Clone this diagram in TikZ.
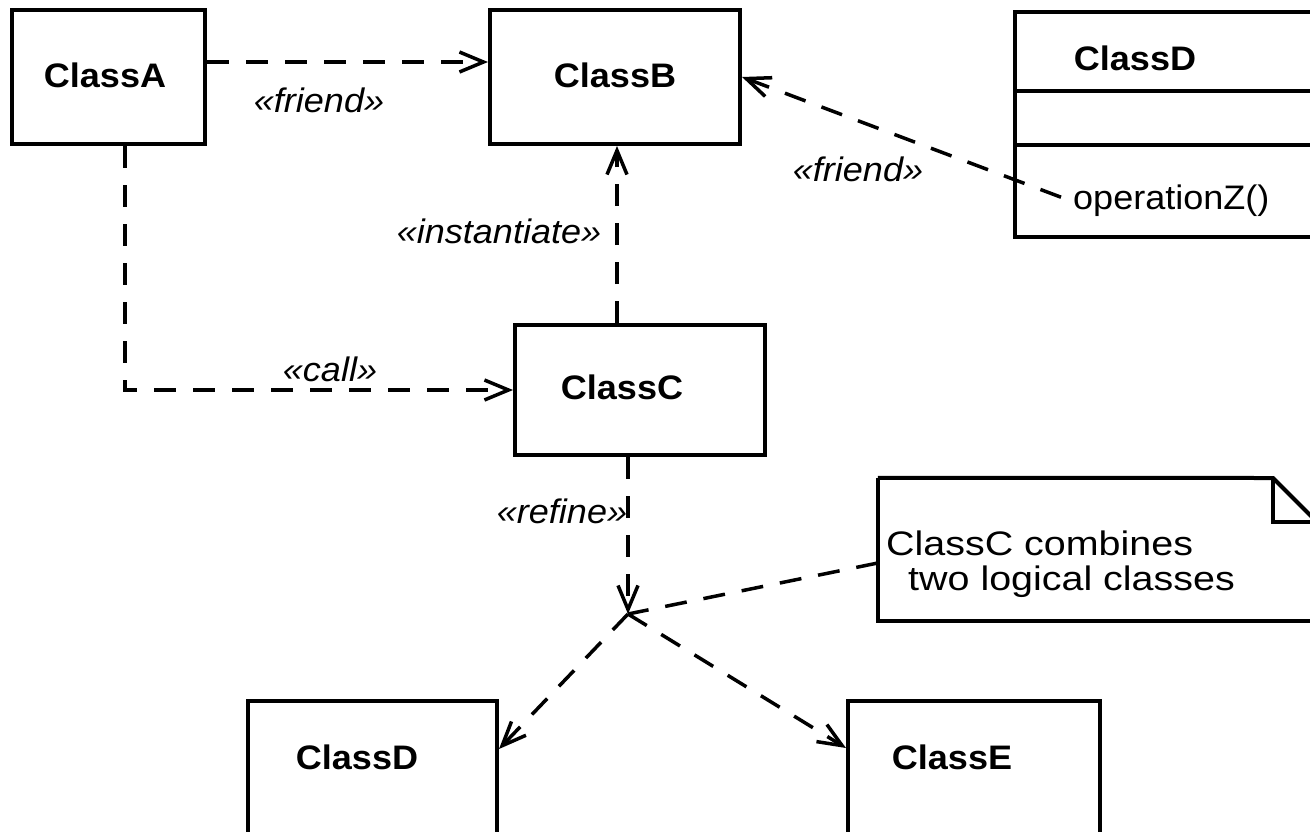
\documentclass[tikz,border=0pt]{standalone}
\usepackage{fontspec}
\setmainfont{Liberation Sans}
\usepackage{graphicx}
\usetikzlibrary{arrows.meta}

\newcommand{\wtxt}[1]{\scalebox{1.06}[1]{#1}}
\newcommand{\notetxt}[1]{\scalebox{1.16}[1]{#1}}

\tikzset{
  classbox/.style={draw, line width=4pt, inner sep=0pt},
  lbl/.style={inner sep=0pt, font=\fontsize{34}{40}\selectfont},
  boldlbl/.style={lbl, anchor=base, font=\fontsize{34}{40}\selectfont\bfseries},
  dep/.style={line width=3.5pt, dash pattern=on 22pt off 17pt, -{Straight Barb[length=24pt,width=20pt]}},
  anchorline/.style={line width=3.5pt, dash pattern=on 22pt off 17pt},
}

\begin{document}
\begin{tikzpicture}[x=1pt,y=1pt,yscale=-1]
\useasboundingbox (0,0) rectangle (1310,831);
\clip (0,0) rectangle (1310,831);

%Shape: Rectangle
\node[classbox, minimum width=193pt, minimum height=134pt] (classA) at (108.5,77) {};
%Shape: Rectangle
\node[classbox, minimum width=250pt, minimum height=134pt] (classB) at (615,77) {};
%Shape: Rectangle
\node[classbox, minimum width=250pt, minimum height=130pt] (classC) at (640,390) {};
%Shape: Rectangle
\node[classbox, minimum width=300pt, minimum height=225pt] (dTop) at (1165,124.5) {};
%Straight Lines
\draw[line width=4pt] (dTop.west |- 0,91) -- (dTop.east |- 0,91) ;
%Straight Lines
\draw[line width=4pt] (dTop.west |- 0,145) -- (dTop.east |- 0,145) ;
%Shape: Rectangle
\node[classbox, minimum width=249pt, minimum height=198pt] (classDb) at (372.5,800) {};
%Shape: Rectangle
\node[classbox, minimum width=252pt, minimum height=198pt] (classE) at (974,800) {};

%Shape: Note
\node[inner sep=0pt, minimum width=442pt, minimum height=143pt] (note) at (1099,549.5) {};
\draw[line width=4pt] (note.north west) -- (1273,478) -- (1320,525) ;
\draw[line width=4pt] (note.north west) -- (note.south west) -- (note.south east) ;
\draw[line width=4pt] (1273,478) -- (1273,522) -- (1320,522) ;

% Text Node
\node[boldlbl] (aTxt) at (105,87) {\wtxt{ClassA}};
% Text Node
\node[boldlbl] (bTxt) at (615,87) {\wtxt{ClassB}};
% Text Node
\node[boldlbl] (cTxt) at (622,399) {\wtxt{ClassC}};
% Text Node
\node[boldlbl] (dTopTxt) at (1135,70) {\wtxt{ClassD}};
% Text Node
\node[lbl, anchor=base west] (opZ) at (1073,209) {\wtxt{operationZ()}};
% Text Node
\node[boldlbl] (dTxt) at (357,769) {\wtxt{ClassD}};
% Text Node
\node[boldlbl] (eTxt) at (952,769) {\wtxt{ClassE}};
% Text Node
\node[lbl, anchor=base west] (noteA) at (886,555) {\notetxt{ClassC combines}};
% Text Node
\node[lbl, anchor=base west] (noteB) at (908,590) {\notetxt{two logical classes}};

% Text Node
\node[lbl, anchor=base] (friendA) at (319,112) {\wtxt{\itshape «friend»}};
% Text Node
\node[lbl, anchor=base] (friendB) at (858,181) {\wtxt{\itshape «friend»}};
% Text Node
\node[lbl, anchor=base] (inst) at (499,243) {\wtxt{\itshape «instantiate»}};
% Text Node
\node[lbl, anchor=base] (call) at (330,381) {\wtxt{\itshape «call»}};
% Text Node
\node[lbl, anchor=base] (refine) at (562,523) {\wtxt{\itshape «refine»}};

\coordinate (split) at (628,614);

%Straight Lines
\draw[dep] ([yshift=-15pt]classA.east) -- ([yshift=-15pt]classB.west) ;
%Straight Lines
\draw[dep] ([xshift=-12pt,yshift=-3pt]opZ.west) -- (classB.east) ;
%Straight Lines
\draw[dep] ([xshift=-23pt]classC.north) -- ([xshift=-23pt]classC.north |- classB.south) ;
%Straight Lines
\draw[dep] ([xshift=16.5pt]classA.south) |- (classC.west) ;
%Straight Lines
\draw[dep] ([xshift=-12pt]classC.south) -- (split) ;
%Straight Lines
\draw[anchorline] ([yshift=13.5pt]note.west) -- (split) ;
%Straight Lines
\draw[dep] (split) -- ([yshift=50pt]classDb.north east) ;
%Straight Lines
\draw[dep] (split) -- ([yshift=49pt]classE.north west) ;

\end{tikzpicture}
\end{document}
